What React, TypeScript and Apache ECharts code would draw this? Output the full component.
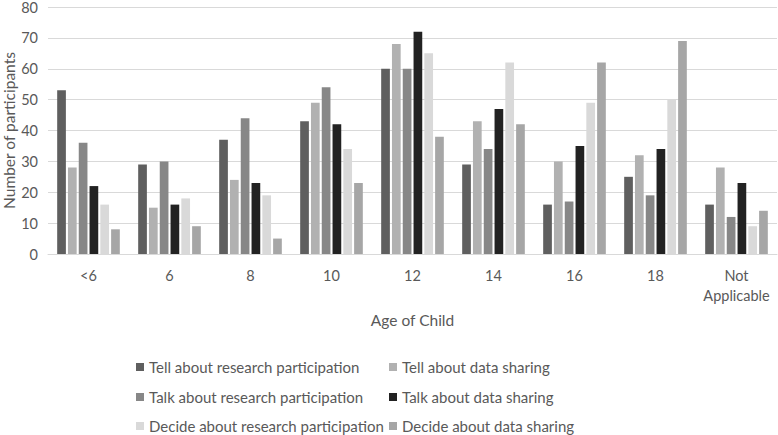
import React, { useEffect, useRef } from "react";
import * as echarts from "echarts";

const categories = ["<6", "6", "8", "10", "12", "14", "16", "18", "Not\nApplicable"];
const seriesNames = [
  "Tell about research participation",
  "Tell about data sharing",
  "Talk about research participation",
  "Talk about data sharing",
  "Decide about research participation",
  "Decide about data sharing",
];
const tellResearch = [53, 29, 37, 43, 60, 29, 16, 25, 16];
const tellData = [28, 15, 24, 49, 68, 43, 30, 32, 28];
const talkResearch = [36, 30, 44, 54, 60, 34, 17, 19, 12];
const talkData = [22, 16, 23, 42, 72, 47, 35, 34, 23];
const decideResearch = [16, 18, 19, 34, 65, 62, 49, 50, 9];
const decideData = [8, 9, 5, 23, 38, 42, 62, 69, 14];
const yTicks = [0, 10, 20, 30, 40, 50, 60, 70, 80];

const seriesValues = [tellResearch, tellData, talkResearch, talkData, decideResearch, decideData];
const colors = ["#5f5f5f", "#b1b1b1", "#878787", "#222222", "#d9d9d9", "#a6a6a6"];

const FONT = "Lato, 'Noto Sans', sans-serif";
const TEXT = "#595959";

export default function App() {
  const ref = useRef<HTMLDivElement>(null);
  useEffect(() => {
    document.body.style.margin = "0";
    if (!ref.current) return;
    const chart = echarts.init(ref.current, undefined, { renderer: "svg" });
    const legendText = { color: TEXT, fontSize: 15, fontFamily: FONT, lineHeight: 16 };
    const legendLefts = [136, 389];
    const legendTops = [359, 389, 418];
    const legends = seriesNames.map((name, i) => ({
      orient: "horizontal",
      left: legendLefts[i % 2],
      top: legendTops[Math.floor(i / 2)],
      padding: 0,
      itemWidth: 8,
      itemHeight: 8,
      itemGap: 0,
      icon: "rect",
      textStyle: legendText,
      data: [name],
    }));
    chart.setOption({
      animation: false,
      textStyle: { fontFamily: FONT },
      grid: { left: 48, right: 1, top: 7, bottom: 181, containLabel: false, outerBoundsMode: "none" },
      legend: legends,
      xAxis: {
        type: "category",
        data: categories,
        name: "Age of Child",
        nameLocation: "middle",
        nameGap: 58,
        nameMoveOverlap: false,
        nameTextStyle: { color: TEXT, fontSize: 15.5, fontFamily: FONT, verticalAlign: "top" },
        axisLine: { show: true, lineStyle: { color: "#d9d9d9", width: 1 } },
        axisTick: { show: false },
        axisLabel: { color: TEXT, fontSize: 14.5, fontFamily: FONT, lineHeight: 20, margin: 11, interval: 0 },
      },
      yAxis: {
        type: "value",
        min: yTicks[0],
        max: yTicks[yTicks.length - 1],
        interval: 10,
        name: "Number of participants",
        nameLocation: "middle",
        nameGap: 31,
        nameMoveOverlap: false,
        nameTextStyle: { color: TEXT, fontSize: 15.5, fontFamily: FONT },
        axisLine: { show: false },
        axisTick: { show: false },
        axisLabel: { color: TEXT, fontSize: 14.5, fontFamily: FONT, margin: 10 },
        splitLine: { show: true, lineStyle: { color: "#d9d9d9", width: 1 } },
      },
      series: seriesNames.map((name, i) => ({
        name,
        type: "bar",
        data: seriesValues[i],
        barWidth: 8.7,
        barGap: "24%",
        itemStyle: { color: colors[i] },
      })),
    });
    return () => chart.dispose();
  }, []);
  return <div ref={ref} style={{ width: 778, height: 435 }} />;
}
